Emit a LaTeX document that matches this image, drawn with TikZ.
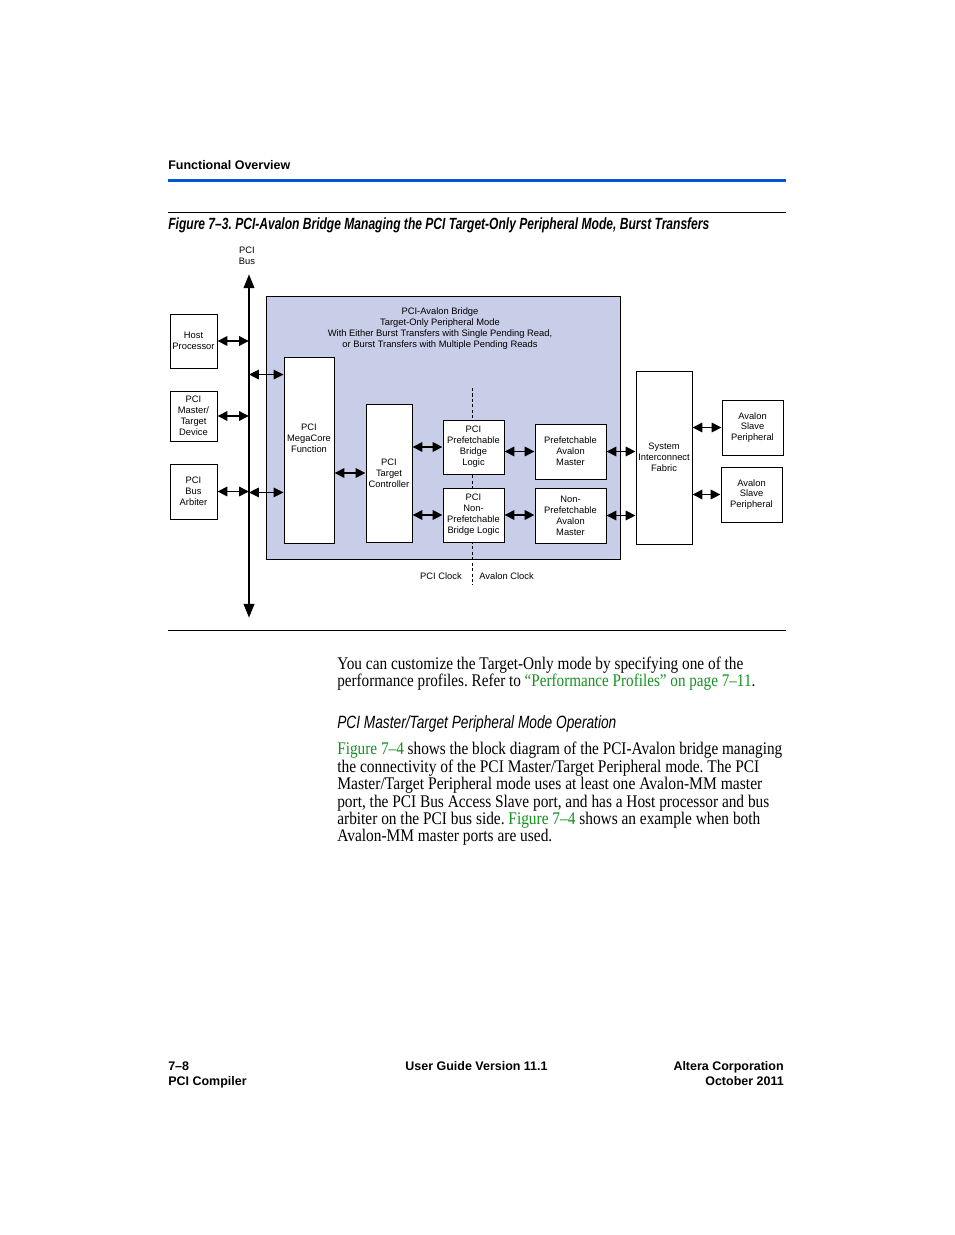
\documentclass[tikz,border=0pt]{standalone}
\usepackage{fontspec}
\setmainfont{Liberation Serif}
\setsansfont{Liberation Sans}
\usetikzlibrary{arrows.meta}
\newlength\pxl
\setlength\pxl{0.6414pt}
\definecolor{rulebl}{RGB}{0,85,210}
\definecolor{bridgebg}{RGB}{200,205,232}
\definecolor{linkgr}{RGB}{20,145,30}
\tikzset{%
  blk/.style={draw=black, fill=white, line width=0.6pt, inner sep=0pt, align=center,
    font=\sffamily\fontsize{6}{7}\selectfont},
  sz/.style 2 args={minimum width=#1*\pxl, minimum height=#2*\pxl},
  txt/.style={align=center, inner sep=0pt, font=\sffamily\fontsize{6}{7}\selectfont},
  dbl/.style={{Triangle[length=6.3pt,width=6pt]}-{Triangle[length=6.3pt,width=6pt]}, line width=1.1pt},
  busline/.style={{Triangle[length=9pt,width=6.5pt]}-{Triangle[length=9pt,width=6.5pt]}, line width=1.9pt},
  clk/.style={line width=0.5pt, dash pattern=on 2pt off 1.5pt},
  body/.style={anchor=base west, inner sep=0pt, font=\fontsize{11.4}{13}\selectfont},
  hdr/.style={inner sep=0pt, font=\sffamily\bfseries\fontsize{8}{9.6}\selectfont}
}
\frenchspacing

\begin{document}
\begin{tikzpicture}[x=\pxl, y=-\pxl]
  \fill [white] (0,0) rectangle (954,1235);
  \useasboundingbox (0,0) rectangle (954,1235);
  % page head
  \node [hdr, anchor=base west] (head) at (168,170) {Functional Overview};
  \draw [rulebl, line width=1.9pt] (168,180.5) -- (786,180.5);
  \draw [line width=0.6pt] (168,212) -- (786,212);
  \node [hdr, anchor=base west] (cap) at (168,229.5) {\resizebox{541\pxl}{\height}{\fontsize{10.4}{12}\selectfont\itshape
    Figure 7--3. PCI-Avalon Bridge Managing the PCI Target-Only Peripheral Mode, Burst Transfers}};
  % bridge
  \node [draw=black, fill=bridgebg, line width=0.6pt, sz={354}{263}] (bridge) at (443,427.5) {};
  \node [txt] (btitle) at (440,328.5) {PCI-Avalon Bridge\\Target-Only Peripheral Mode\\
    With Either Burst Transfers with Single Pending Read,\\or Burst Transfers with Multiple Pending Reads};
  % clock line
  \coordinate (clkTop) at (472,388);
  \coordinate (clkBot) at (472,585);
  \draw [clk] (clkTop) -- (clkBot);
  \node [txt, anchor=east] (pciclk) at (462,576) {PCI Clock};
  \node [txt, anchor=west] (avclk) at (479,576) {Avalon Clock};
  % bus
  \coordinate (busTop) at (249,274);
  \coordinate (busBot) at (249,618);
  \draw [busline] (busBot) -- (busTop);
  \node [txt] (buslbl) at (247,255.5) {PCI\\Bus};
  % pci side
  \node [blk, sz={47}{54}] (host) at (193.5,341) {Host\\Processor};
  \node [blk, sz={47}{50}] (mtdev) at (193.5,416) {PCI\\Master/\\Target\\Device};
  \node [blk, sz={47}{55}] (arb) at (193.5,491.5) {PCI\\Bus\\Arbiter};
  % inside bridge
  \node [blk, sz={50}{186}] (mega) at (309,450) {};
  \node [txt] (megalbl) at (309,438) {PCI\\MegaCore\\Function};
  \node [blk, sz={46}{138}] (tctl) at (389,473) {PCI\\Target\\Controller};
  \node [blk, sz={61}{54}] (pbl) at (473.5,447) {PCI\\Prefetchable\\Bridge\\Logic};
  \node [blk, sz={61}{54}] (npbl) at (473.5,515) {PCI\\Non-\\Prefetchable\\Bridge Logic};
  \node [blk, sz={71}{55}] (pam) at (570.5,451.5) {Prefetchable\\Avalon\\Master};
  \node [blk, sz={71}{55}] (npam) at (570.5,515.5) {Non-\\Prefetchable\\Avalon\\Master};
  % avalon side
  \node [blk, sz={56}{173}] (sif) at (664,457.5) {System\\Interconnect\\Fabric};
  \node [blk, sz={61}{55}] (slv1) at (752.5,427.5) {Avalon\\Slave\\Peripheral};
  \node [blk, sz={61}{55}] (slv2) at (751.5,494.5) {Avalon\\Slave\\Peripheral};
  \coordinate (mpa) at ([yshift=-18*\pxl]mega.north west);
  \coordinate (mpb) at ([yshift=51*\pxl]mega.south west);
  \draw [dbl] (host.east) -- (host.east -| busTop);
  \draw [dbl] (mtdev.east) -- (mtdev.east -| busTop);
  \draw [dbl] (arb.east) -- (arb.east -| busTop);
  \draw [dbl] (busTop |- mpa) -- (mpa);
  \draw [dbl] (busTop |- mpb) -- (mpb);
  \draw [dbl] (tctl.west -| mega.east) -- (tctl.west);
  \draw [dbl] (pbl.west -| tctl.east) -- (pbl.west);
  \draw [dbl] (npbl.west -| tctl.east) -- (npbl.west);
  \draw [dbl] (pam.west -| pbl.east) -- (pam.west);
  \draw [dbl] (npbl.east) -- (npbl.east -| npam.west);
  \draw [dbl] (pam.east) -- (pam.east -| sif.west);
  \draw [dbl] (npam.east) -- (npam.east -| sif.west);
  \draw [dbl] (slv1.west -| sif.east) -- (slv1.west);
  \draw [dbl] (slv2.west -| sif.east) -- (slv2.west);
  \draw [line width=0.6pt] (168,630) -- (786,630);
  % body text
  \node [body] (l1) at (337,669) {\resizebox{406\pxl}{\height}{You can customize the Target-Only mode by specifying one of the}};
  \node [body] (l2) at (337,686) {\resizebox{418\pxl}{\height}{performance profiles. Refer to \textcolor{linkgr}{``Performance Profiles'' on page 7--11}.}};
  \node [body] (sub) at (337,728) {\resizebox{279\pxl}{\height}{\sffamily\itshape PCI Master/Target Peripheral Mode Operation}};
  \node [body] (l3) at (337,754) {\resizebox{445\pxl}{\height}{\textcolor{linkgr}{Figure 7--4} shows the block diagram of the PCI-Avalon bridge managing}};
  \node [body] (l4) at (337,772) {\resizebox{422\pxl}{\height}{the connectivity of the PCI Master/Target Peripheral mode. The PCI}};
  \node [body] (l5) at (337,789) {\resizebox{425\pxl}{\height}{Master/Target Peripheral mode uses at least one Avalon-MM master}};
  \node [body] (l6) at (337,807) {\resizebox{432\pxl}{\height}{port, the PCI Bus Access Slave port, and has a Host processor and bus}};
  \node [body] (l7) at (337,824) {\resizebox{423\pxl}{\height}{arbiter on the PCI bus side. \textcolor{linkgr}{Figure 7--4} shows an example when both}};
  \node [body] (l8) at (337,841) {\resizebox{215\pxl}{\height}{Avalon-MM master ports are used.}};
  % page foot
  \node [hdr, anchor=base west] (pgno) at (168,1070) {7--8};
  \node [hdr, anchor=base west] (prod) at (168,1085) {PCI Compiler};
  \node [hdr, anchor=base] (ver) at (476.5,1070) {User Guide Version 11.1};
  \node [hdr, anchor=base east] (corp) at (784,1070) {Altera Corporation};
  \node [hdr, anchor=base east] (date) at (784,1085) {October 2011};
\end{tikzpicture}
\end{document}
